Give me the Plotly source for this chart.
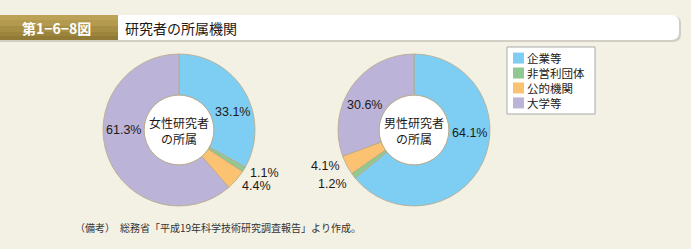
import math
import plotly.graph_objects as go

W, H = 691, 249

categories = ["企業等", "非営利団体", "公的機関", "大学等"]
female_values = [33.1, 1.1, 4.4, 61.3]
male_values = [64.1, 1.2, 4.1, 30.6]
colors = ["#7ecef4", "#8fc891", "#fbc271", "#bbb3d8"]
label_inside = [True, False, False, True]
center_labels = ["女性研究者<br>の所属", "男性研究者<br>の所属"]
fig_number = "第1−6−8図"
fig_title = "研究者の所属機関"
footnote = "（備考）　総務省「平成19年科学技術研究調査報告」より作成。"

BG = "#f3f0e4"
FONT = "Noto Sans CJK JP"
NUMFONT = "Liberation Sans"
TXT = "#231815"

def px(x):
    return x / W

def py(y):
    return 1 - y / H

# pie geometry (pixel space)
centers = [(179, 130), (414, 130)]
R = 76
HOLE = 0.46
# label placement style: angular nudges (deg) for inside labels, vertical spread for outside ones
angle_nudges = [[12, 0, 0, 20], [-22, 0, 0, -8]]
out_dy = [[0, 1, 3, 0], [0, 5, -1, 0]]
R_IN = 56
R_OUT = 81

fig = go.Figure()
annotations = []
for i, (vals, (cx, cy)) in enumerate(zip([female_values, male_values], centers)):
    fig.add_trace(go.Pie(
        labels=categories,
        values=vals,
        sort=False,
        direction="clockwise",
        rotation=0,
        hole=HOLE,
        marker=dict(colors=colors, line=dict(color="#b9a986", width=0.8)),
        textinfo="none",
        domain=dict(x=[px(cx - 150), px(cx + 150)], y=[py(cy + R), py(cy - R)]),
        showlegend=False,
        hoverinfo="label+percent",
    ))
    total = sum(vals)
    cum = 0.0
    for j, v in enumerate(vals):
        mid = (cum + v / 2) / total * 360.0
        cum += v
        if label_inside[j]:
            a = math.radians(mid + angle_nudges[i][j])
            x = cx + R_IN * math.sin(a)
            y = cy - R_IN * math.cos(a)
            xa = "center"
        else:
            a = math.radians(mid)
            x = cx + R_OUT * math.sin(a)
            y = cy - R_OUT * math.cos(a) + out_dy[i][j]
            xa = "left" if math.sin(a) >= 0 else "right"
        annotations.append(dict(x=px(x), y=py(y), xref="paper", yref="paper",
                                text=f"{v:.1f}%", showarrow=False, xanchor=xa, yanchor="middle",
                                font=dict(family=NUMFONT, size=12.5, color=TXT)))

shapes = []
# white holes
for cx, cy in centers:
    r = R * HOLE
    shapes.append(dict(type="circle", xref="paper", yref="paper", layer="below",
                       x0=px(cx - r), x1=px(cx + r), y0=py(cy + r), y1=py(cy - r),
                       fillcolor="white", line=dict(color="#b9a986", width=0.8)))

# title bar: shadow, white rounded box, gold box
def rounded_path(x0, y0, x1, y1, rr):
    return (f"M {px(x0)} {py(y0)} L {px(x1 - rr)} {py(y0)} "
            f"Q {px(x1)} {py(y0)} {px(x1)} {py(y0 + rr)} "
            f"L {px(x1)} {py(y1 - rr)} Q {px(x1)} {py(y1)} {px(x1 - rr)} {py(y1)} "
            f"L {px(x0)} {py(y1)} Z")

shapes.append(dict(type="path", xref="paper", yref="paper", layer="below",
                   path=rounded_path(0, 16, 681, 42, 8), fillcolor="#d2cec4", line=dict(width=0)))
shapes.append(dict(type="path", xref="paper", yref="paper", layer="below",
                   path=rounded_path(0, 15, 679, 40, 8), fillcolor="white", line=dict(width=0)))
gold_bands = [(15, 20, "#bba257"), (20, 26, "#b39a4f"), (26, 32, "#a78e45"), (32, 36, "#9c843d"), (36, 40, "#917a35")]
for y0, y1, c in gold_bands:
    shapes.append(dict(type="rect", xref="paper", yref="paper", layer="below",
                       x0=0, x1=px(118), y0=py(y1), y1=py(y0), fillcolor=c, line=dict(width=0)))

# legend (manual)
LX0, LY0, LX1, LY1 = 507, 47, 595, 114
LEG_FS = 11.5
ROWH = LEG_FS * 1.3
shapes.append(dict(type="rect", xref="paper", yref="paper", layer="below",
                   x0=px(LX0), x1=px(LX1), y0=py(LY1), y1=py(LY0),
                   fillcolor="white", line=dict(color="#a9a9a9", width=1)))
leg_mid = (LY0 + LY1) / 2
for k, col in enumerate(colors):
    yc = leg_mid + (k - (len(colors) - 1) / 2) * ROWH
    shapes.append(dict(type="rect", xref="paper", yref="paper", layer="below",
                       x0=px(513), x1=px(524), y0=py(yc + 5.5), y1=py(yc - 5.5),
                       fillcolor=col, line=dict(width=0)))
annotations.append(dict(x=px(525), y=py(leg_mid), xref="paper", yref="paper",
                        text="<br>".join(categories), align="left",
                        showarrow=False, xanchor="left", yanchor="middle",
                        font=dict(family=FONT, size=LEG_FS, color=TXT)))

for (cx, cy), lab in zip(centers, center_labels):
    annotations.append(dict(x=px(cx), y=py(cy), xref="paper", yref="paper", text=lab,
                            showarrow=False, xanchor="center", yanchor="middle",
                            font=dict(family=FONT, size=12, color=TXT)))
annotations.append(dict(x=px(20), y=py(27.5), xref="paper", yref="paper", text=f"<b>{fig_number}</b>",
                        showarrow=False, xanchor="left", yanchor="middle",
                        font=dict(family=FONT, size=14, color="white")))
annotations.append(dict(x=px(123), y=py(27.5), xref="paper", yref="paper", text=fig_title,
                        showarrow=False, xanchor="left", yanchor="middle",
                        font=dict(family=FONT, size=14, color=TXT)))
annotations.append(dict(x=px(73), y=py(227), xref="paper", yref="paper", text=footnote,
                        showarrow=False, xanchor="left", yanchor="middle",
                        font=dict(family=FONT, size=10, color="#333333")))

fig.update_layout(
    width=W, height=H,
    margin=dict(l=0, r=0, t=0, b=0, pad=0, autoexpand=False),
    paper_bgcolor=BG, plot_bgcolor=BG,
    shapes=shapes,
    annotations=annotations,
    showlegend=False,
    font=dict(family=FONT),
)

fig.write_html("out.html")
